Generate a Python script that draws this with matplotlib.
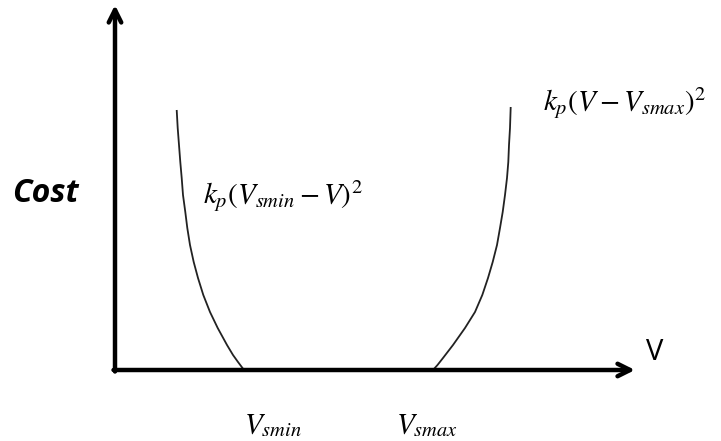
import matplotlib
matplotlib.use("Agg")
import matplotlib.pyplot as plt
import numpy as np

plt.rcParams['mathtext.fontset'] = 'stix'

# curve points (V, Cost) in arbitrary units
left_v = [1.234, 1.254, 1.28, 1.306, 1.334, 1.36, 1.406, 1.446, 1.50, 1.574,
          1.66, 1.766, 1.90, 2.054, 2.24, 2.36, 2.46, 2.58]
left_cost = [5.20, 4.84, 4.50, 4.16, 3.84, 3.50, 3.16, 2.84, 2.50, 2.16,
             1.84, 1.50, 1.16, 0.84, 0.50, 0.30, 0.16, 0.0]
right_v = [6.36, 6.45, 6.56, 6.76, 7.00, 7.20, 7.346, 7.46, 7.554, 7.64, 7.70,
           7.754, 7.80, 7.84, 7.866, 7.88, 7.90, 7.914]
right_cost = [0.0, 0.10, 0.24, 0.50, 0.84, 1.16, 1.50, 1.84, 2.16, 2.50, 2.84,
              3.16, 3.50, 3.84, 4.16, 4.50, 4.84, 5.26]

# labels under the V axis
v_marks = [3.16, 6.24]
v_mark_labels = [r'$V_{smin}$', r'$V_{smax}$']

x_end, y_end = 10.4, 7.26

fig = plt.figure(figsize=(7.21, 4.41), dpi=100)
ax = fig.add_axes([0, 0, 1, 1])
ax.set_xlim(-2.3, 12.12)
ax.set_ylim(-1.42, 7.4)
ax.axis('off')

# axes arrows
arrow = dict(arrowstyle='->,head_length=0.9,head_width=0.45', lw=3.2,
             color='black', shrinkA=0, shrinkB=0)
ax.annotate('', xy=(x_end, 0), xytext=(-0.03, 0), arrowprops=arrow)
ax.annotate('', xy=(0, y_end + 0.04), xytext=(0, -0.03), arrowprops=arrow)

ax.plot(left_v, left_cost, color='#222222', lw=1.3, solid_capstyle='butt')
ax.plot(right_v, right_cost, color='#222222', lw=1.3, solid_capstyle='butt')

ax.text(-1.4, 3.54, 'Cost', fontsize=23, fontweight='bold', fontstyle='italic',
        family='Open Sans', ha='center', va='center')
ax.text(10.8, 0.36, 'V', fontsize=21, family='Open Sans', ha='center', va='center')

ax.text(1.76, 3.48, r'$k_p(V_{smin}-V)^2$', fontsize=21, ha='left', va='center')
ax.text(8.56, 5.34, r'$k_p(V-V_{smax})^2$', fontsize=21, ha='left', va='center')

for v, lab in zip(v_marks, v_mark_labels):
    ax.text(v, -1.1, lab, fontsize=21, ha='center', va='center')

fig.savefig('out.png', dpi=100)
